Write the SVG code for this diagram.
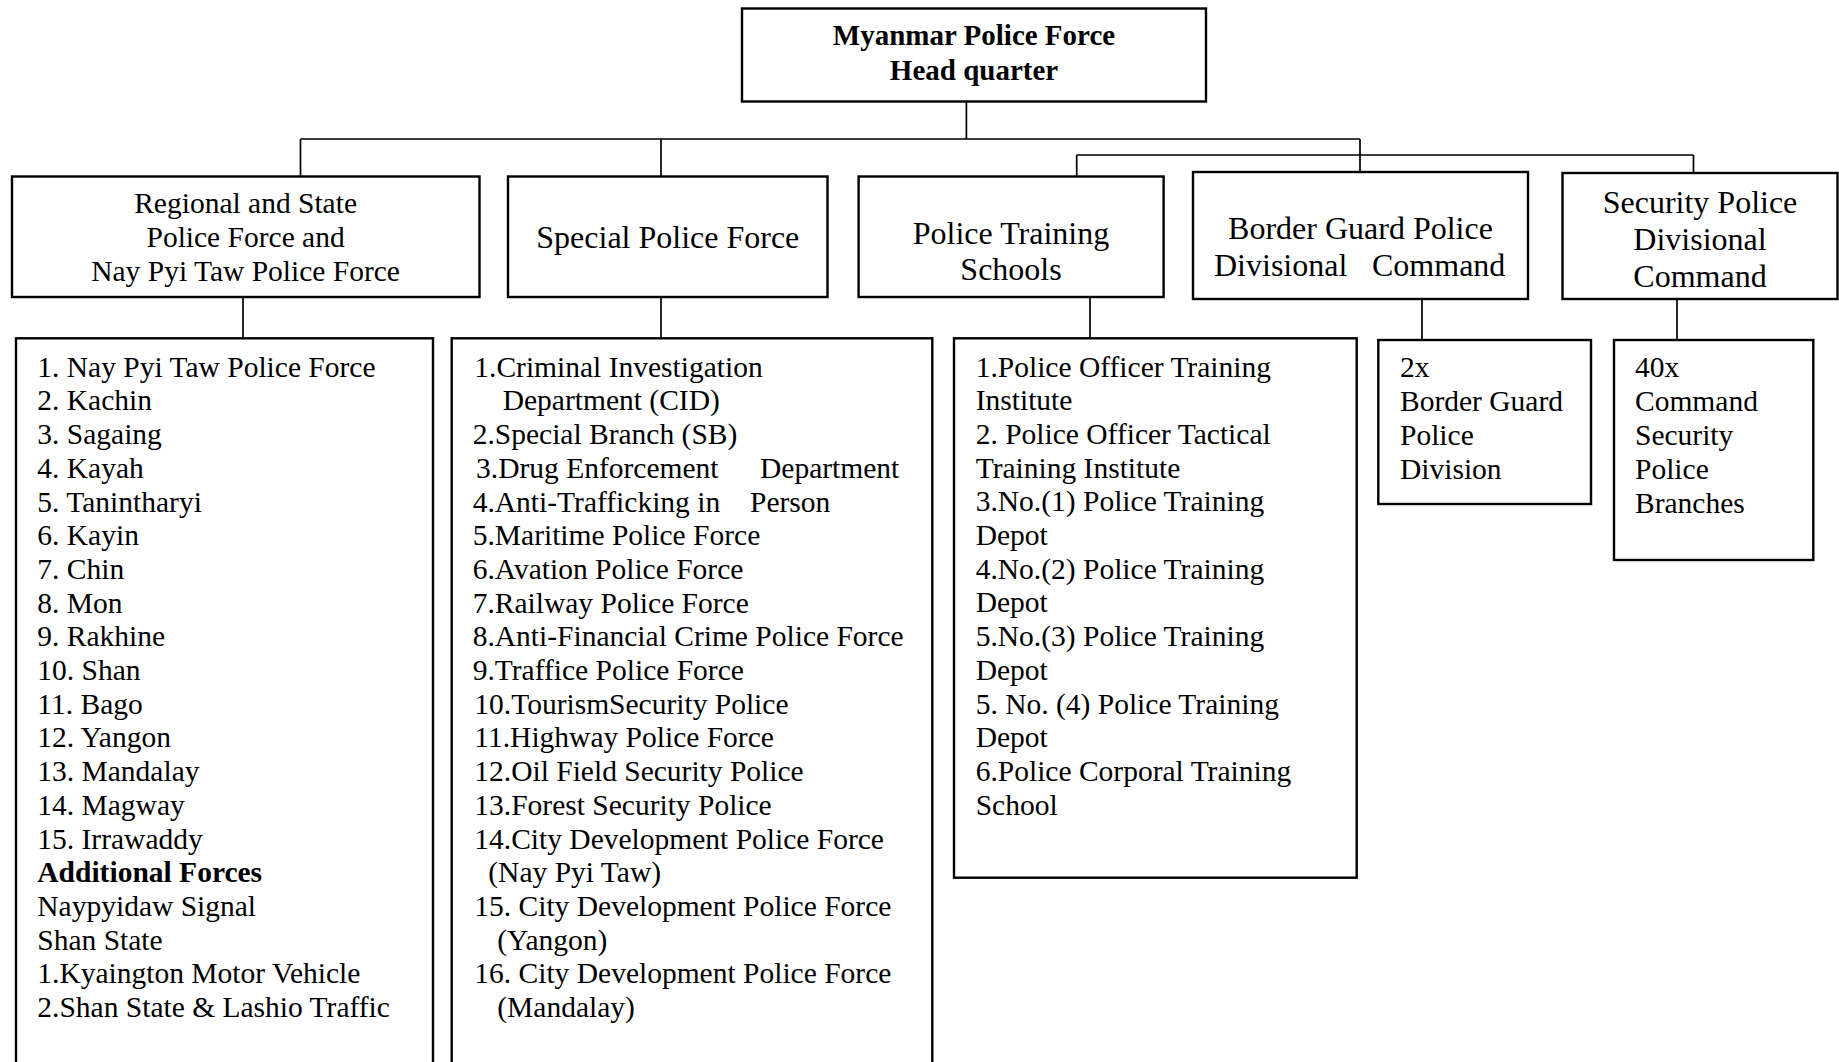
<svg xmlns="http://www.w3.org/2000/svg" width="1839" height="1062" viewBox="0 0 1839 1062">
<style>
.box{fill:#fff;stroke:#000;stroke-width:2.4}
.ln{fill:none;stroke:#000;stroke-width:1.7}
text{font-family:"Liberation Serif","Times New Roman",serif;fill:#000}
.c{text-anchor:middle}
.f29{font-size:29.5px}
.f32{font-size:32px}
.f31{font-size:32px}
.hq{font-size:29px;font-weight:bold}
.b{font-weight:bold}
</style>
<rect width="1839" height="1062" fill="#fff"/>
<g id="connectors">
<path class="ln" d="M966.4 101V139M300.5 139H1360M300.5 139V176M661 139V176M1360 139V172M1076.7 155H1693.5M1076.7 155V176M1693.5 155V173M243 297V338M661 297V338M1090 297V338M1422 291V340M1677 299V340"/>
</g>
<g id="hq">
<rect class="box" x="742" y="8.5" width="464" height="93"/>
<text class="hq c" x="974" y="45">Myanmar Police Force</text>
<text class="hq c" x="974" y="80">Head quarter</text>
</g>
<g id="regional">
<rect class="box" x="12" y="176.5" width="467.5" height="120.5"/>
<text class="f29 c" x="245.6" y="213">Regional and State</text>
<text class="f29 c" x="245.6" y="247">Police Force and</text>
<text class="f29 c" x="245.6" y="281">Nay Pyi Taw Police Force</text>
</g>
<g id="special">
<rect class="box" x="508" y="176.5" width="319.5" height="120.5"/>
<text class="f32 c" x="667.8" y="248">Special Police Force</text>
</g>
<g id="training">
<rect class="box" x="858.6" y="176.5" width="305" height="120.5"/>
<text class="f32 c" x="1011" y="244">Police Training</text>
<text class="f32 c" x="1011" y="280">Schools</text>
</g>
<g id="border">
<rect class="box" x="1193" y="172" width="335" height="127"/>
<text class="f31 c" x="1360.5" y="239">Border Guard Police</text>
<text class="f31" x="1214" y="276">Divisional</text>
<text class="f31" x="1372" y="276">Command</text>
</g>
<g id="security">
<rect class="box" x="1562.5" y="173" width="275" height="126"/>
<text class="f32 c" x="1700" y="213">Security Police</text>
<text class="f32 c" x="1700" y="250">Divisional</text>
<text class="f32 c" x="1700" y="287">Command</text>
</g>
<g id="regional-list" class="f29">
<rect class="box" x="16" y="338.3" width="417" height="760"/>
<text x="37.3" y="376.7">1. Nay Pyi Taw Police Force</text>
<text x="37.3" y="410.4">2. Kachin</text>
<text x="37.3" y="444.1">3. Sagaing</text>
<text x="37.3" y="477.8">4. Kayah</text>
<text x="37.3" y="511.5">5. Tanintharyi</text>
<text x="37.3" y="545.2">6. Kayin</text>
<text x="37.3" y="578.9">7. Chin</text>
<text x="37.3" y="612.6">8. Mon</text>
<text x="37.3" y="646.3">9. Rakhine</text>
<text x="37.3" y="680">10. Shan</text>
<text x="37.3" y="713.7">11. Bago</text>
<text x="37.3" y="747.4">12. Yangon</text>
<text x="37.3" y="781.1">13. Mandalay</text>
<text x="37.3" y="814.8">14. Magway</text>
<text x="37.3" y="848.5">15. Irrawaddy</text>
<text class="b" x="37.3" y="882.2">Additional Forces</text>
<text x="37.3" y="915.9">Naypyidaw Signal</text>
<text x="37.3" y="949.6">Shan State</text>
<text x="37.3" y="983.3">1.Kyaington Motor Vehicle</text>
<text x="37.3" y="1017">2.Shan State &amp; Lashio Traffic</text>
</g>
<g id="special-list" class="f29">
<rect class="box" x="451.7" y="338.3" width="480.6" height="760"/>
<text x="474.3" y="376.7">1.Criminal Investigation</text>
<text x="502.7" y="410.4">Department (CID)</text>
<text x="472.7" y="444.1">2.Special Branch (SB)</text>
<text x="476" y="477.8">3.Drug Enforcement</text>
<text x="760" y="477.8">Department</text>
<text x="472.7" y="511.5">4.Anti-Trafficking in</text>
<text x="750" y="511.5">Person</text>
<text x="472.7" y="545.2">5.Maritime Police Force</text>
<text x="472.7" y="578.9">6.Avation Police Force</text>
<text x="472.7" y="612.6">7.Railway Police Force</text>
<text x="472.7" y="646.3">8.Anti-Financial Crime Police Force</text>
<text x="472.7" y="680">9.Traffice Police Force</text>
<text x="474.3" y="713.7">10.TourismSecurity Police</text>
<text x="474.3" y="747.4">11.Highway Police Force</text>
<text x="474.3" y="781.1">12.Oil Field Security Police</text>
<text x="474.3" y="814.8">13.Forest Security Police</text>
<text x="474.3" y="848.5">14.City Development Police Force</text>
<text x="488.3" y="882.2">(Nay Pyi Taw)</text>
<text x="474.3" y="915.9">15. City Development Police Force</text>
<text x="497.3" y="949.6">(Yangon)</text>
<text x="474.3" y="983.3">16. City Development Police Force</text>
<text x="497.3" y="1017">(Mandalay)</text>
</g>
<g id="training-list" class="f29">
<rect class="box" x="954" y="338.3" width="402.7" height="539.4"/>
<text x="975.7" y="376.5">1.Police Officer Training</text>
<text x="975.7" y="410.2">Institute</text>
<text x="975.7" y="443.9">2. Police Officer Tactical</text>
<text x="975.7" y="477.6">Training Institute</text>
<text x="975.7" y="511.3">3.No.(1) Police Training</text>
<text x="975.7" y="545">Depot</text>
<text x="975.7" y="578.7">4.No.(2) Police Training</text>
<text x="975.7" y="612.4">Depot</text>
<text x="975.7" y="646.1">5.No.(3) Police Training</text>
<text x="975.7" y="679.8">Depot</text>
<text x="975.7" y="713.5">5. No. (4) Police Training</text>
<text x="975.7" y="747.2">Depot</text>
<text x="975.7" y="780.9">6.Police Corporal Training</text>
<text x="975.7" y="814.6">School</text>
</g>
<g id="border-list" class="f29">
<rect class="box" x="1378.3" y="340" width="212.7" height="164"/>
<text x="1400" y="377.3">2x</text>
<text x="1400" y="411.2">Border Guard</text>
<text x="1400" y="445.1">Police</text>
<text x="1400" y="479">Division</text>
</g>
<g id="security-list" class="f29">
<rect class="box" x="1614" y="340" width="199.3" height="220"/>
<text x="1635" y="377.3">40x</text>
<text x="1635" y="411.2">Command</text>
<text x="1635" y="445.1">Security</text>
<text x="1635" y="479">Police</text>
<text x="1635" y="512.9">Branches</text>
</g>
</svg>
